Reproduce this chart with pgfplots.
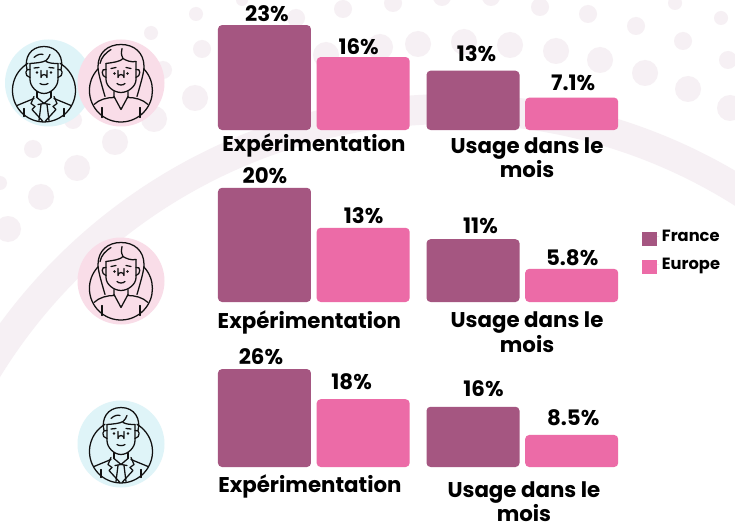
\documentclass[border=0pt]{standalone}
\usepackage{pgfplots}
\usepackage{pgfplotstable}
\usepackage{fontspec}
\setmainfont{Poppins}
\pgfplotsset{compat=1.18}
\definecolor{fr}{HTML}{A55681}
\definecolor{eu}{HTML}{EC6BA7}
\definecolor{bgd}{HTML}{F6F0F4}
\definecolor{av1}{HTML}{DFF4F8}
\definecolor{av2}{HTML}{F9DDE8}
\definecolor{ink}{HTML}{111111}
% x y label dx dy (offsets of the value labels, in px)
\pgfplotstableread{
x y lab dx dy
0 23 23 2.5 11
1 13 13 3.5 17
}\fa
\pgfplotstableread{
x y lab dx dy
0 16 16 -4.5 10
1 7.1 7.1 1.5 15
}\ea
\pgfplotstableread{
x y lab dx dy
0 20 20 0.5 12
1 11 11 7.5 13
}\fb
\pgfplotstableread{
x y lab dx dy
0 13 13 0.5 12
1 5.8 5.8 0.5 11
}\eb
\pgfplotstableread{
x y lab dx dy
0 26 26 -3.5 12
1 16 16 10.5 18
}\fc
\pgfplotstableread{
x y lab dx dy
0 18 18 -11.5 18
1 8.5 8.5 1.5 17
}\ec
\newcommand\labfont{\fontsize{16}{18.4}\selectfont\bfseries}
\pgfplotsset{
  panel/.style={
    scale only axis, width=315pt,
    xmin=-0.508, xmax=1.506,
    ytick=\empty, xtick={0}, extra x ticks={1},
    axis line style={draw=none}, major tick length=0pt,
    tick style={draw=none},
    y coord trafo/.code={\pgfmathparse{##1+5}},
    ymin=0,
    anchor=south west,
    xticklabel style={font=\labfont, align=center, text=black, inner sep=0pt, anchor=center},
    nodes near coords={\pgfplotspointmeta\%},
    point meta=explicit symbolic,
    every node near coord/.append style={font=\labfont, text=black, inner sep=0pt, anchor=center,
      xshift=\dx*0.75pt, yshift=\dy*0.75pt},
  },
  barF/.style={ybar, bar width=69.75pt, bar shift=-37.1pt, fill=fr, draw=none, rounded corners=3pt,
    every node near coord/.append style={xshift=-37.1pt},
    visualization depends on={\thisrow{dx}\as\dx}, visualization depends on={\thisrow{dy}\as\dy}},
  barE/.style={ybar, bar width=69.75pt, bar shift=36.9pt, fill=eu, draw=none, rounded corners=3pt,
    every node near coord/.append style={xshift=36.9pt},
    visualization depends on={\thisrow{dx}\as\dx}, visualization depends on={\thisrow{dy}\as\dy}},
}
\newcommand\man[2]{%
\begin{scope}[shift={(#1,#2)}, draw=ink, line width=0.95pt, line cap=round, line join=round]
  \draw (-16,-27.2) arc[start angle=239.5, end angle=-59.5, radius=31.5];
  \draw (-17,-21) .. controls (-20,-32) and (-14,-44) .. (0,-44) .. controls (14,-44) and (20,-32) .. (17,-21);
  \draw (-14,-27) -- (-14,-11) .. controls (-14,-4) and (-7,3) .. (0,3) .. controls (7,3) and (14,-4) .. (14,-11) -- (14,-27);
  \draw (-14,-27) .. controls (-8,-27.5) and (-1,-28) .. (2,-30) .. controls (4,-32) and (5,-33) .. (6,-36);
  \draw (2,-29) .. controls (6,-27) and (10,-27) .. (14,-27);
  \draw (-10,-33) .. controls (-7,-36) and (-3,-37) .. (-1,-36);
  \draw (-14,-21) .. controls (-19,-23) and (-20,-14) .. (-14,-13);
  \draw (14,-21) .. controls (19,-23) and (20,-14) .. (14,-13);
  \fill[ink] (-7,-18) circle (1.4) (7,-18) circle (1.4);
  \draw (-10,-22.5) -- (-5,-23) (5,-23) -- (10,-22.5);
  \draw (-3,-20) -- (-3,-13) arc[start angle=180, end angle=360, radius=3] -- (3,-20);
  \draw (-4,-7) .. controls (-2,-5.5) and (2,-5.5) .. (4,-7);
  \draw (-7,1) -- (-7,7) (7,1) -- (7,7);
  \draw (-27,15) -- (-10,8) (27,15) -- (10,8);
  \draw (-10,6) -- (-13,13) -- (-9,16) -- (-12,19) -- (-1,31);
  \draw (10,6) -- (13,13) -- (9,16) -- (12,19) -- (1,31);
  \draw (-7,7) -- (0,13) -- (7,7) (-6,14) -- (0,13) -- (6,14);
  \draw (-3,14) -- (-5,30) (3,14) -- (5,30);
  \draw (-20,18) -- (-20,26) (20,18) -- (20,26);
\end{scope}}
\newcommand\woman[2]{%
\begin{scope}[shift={(#1,#2)}, draw=ink, line width=0.95pt, line cap=round, line join=round]
  \draw (-23,-21.6) arc[start angle=223.3, end angle=-43.3, radius=31.5];
  \draw (-16,6) .. controls (-20,-8) and (-23,-18) .. (-23,-24) .. controls (-23,-38) and (-13,-46) .. (0,-46) .. controls (13,-46) and (23,-38) .. (23,-24) .. controls (23,-18) and (20,-8) .. (16,6);
  \draw (-15,-27) -- (-15,-11) .. controls (-15,-4) and (-7,2) .. (0,2) .. controls (7,2) and (15,-4) .. (15,-11) -- (15,-29);
  \draw (-15,-27) .. controls (-8,-28) and (0,-29) .. (2,-32) .. controls (0,-36) and (0,-39) .. (1,-42);
  \draw (2,-32) .. controls (5,-30) and (10,-28) .. (15,-29);
  \draw (-21,-27) .. controls (-20,-33) and (-15,-38) .. (-10,-41);
  \draw (-15,-21) .. controls (-20,-23) and (-20,-14) .. (-15,-13);
  \draw (15,-21) .. controls (20,-23) and (20,-14) .. (15,-13);
  \fill[ink] (-6.5,-17) circle (1.4) (6.5,-17) circle (1.4);
  \draw (-10,-22) -- (-5,-23) (5,-23) -- (10,-22);
  \draw (-3,-20) -- (-3,-13) arc[start angle=180, end angle=360, radius=3] -- (3,-20);
  \draw (-4,-7) .. controls (-2,-5) and (2,-5) .. (4,-7);
  \draw (-27,14) .. controls (-22,9) and (-14,7) .. (-7,7) -- (-7,1);
  \draw (27,14) .. controls (22,9) and (14,7) .. (7,7) -- (7,1);
  \draw (-7,6) -- (0,19) -- (7,6);
  \draw (-19,17) -- (-19,27) (19,17) -- (19,27);
\end{scope}}
\begin{document}
\begin{tikzpicture}
\begin{scope}[x=0.75pt, y=-0.75pt]
  \path[use as bounding box, fill=white] (0,0) rectangle (735,524);
  \clip (0,0) rectangle (735,524);
  \draw[bgd, line width=22.5pt] (452,654) circle (545);
  \foreach \a/\b/\r in {196/14/7,151/33/7,202/49/9,195/98/13,154/119/13,115/142/13,77/168/13,
    33/149/9,73/120/9,41/197/13,0/183/7,8/229/13,163/70/9,242/0/6,296/18/9,343/9/9,393/3/9,
    442/-3/9,491/-3/9,540/7/9,588/14/9,636/26/9,675/3/7,683/41/9,721/18/7,728/60/9,
    326/55/13,380/47/13,418/44/13,464/42/13,510/45/13,556/51/13,600/60/13,645/73/13,688/89/13,730/108/13}
    {\fill[bgd] (\a,\b) circle (\r);}
  \fill[av1] (48.5,83) circle (43.5);
  \man{44}{90.5}
  \fill[av2] (121,83) circle (43.5);
  \woman{121}{90.5}
  \fill[av2] (121,281) circle (43.5);
  \woman{121}{288.5}
  \fill[av1] (121,444) circle (43.5);
  \man{121}{451.5}
\end{scope}

\begin{axis}[panel, at={(156pt,-97.5pt)}, height=97.5pt, ymax=28.5,
  xticklabels={Expérimentation},
  extra x tick labels={Usage dans le\\mois},
  extra x tick style={xticklabel style={xshift=3.4pt, yshift=-9.35pt}},
  xticklabel style={yshift=-11.3pt}]
  \addplot[barF] table[x=x,y=y,meta=lab] {\fa};
  \addplot[barE] table[x=x,y=y,meta=lab] {\ea};
\end{axis}

\begin{axis}[panel, at={(156pt,-226.5pt)}, height=102.75pt, ymax=24,
  xticklabels={Expérimentation},
  extra x tick labels={Usage dans le\\mois},
  extra x tick style={xticklabel style={xshift=6.8pt, yshift=-7.5pt}},
  xticklabel style={xshift=-3.4pt, yshift=-15pt},
  legend style={at={(1.033,0.545)}, anchor=north west, draw=none, fill=none, inner sep=0pt, outer sep=0pt,
    font=\fontsize{12.2}{14}\selectfont\bfseries, row sep=7pt, cells={anchor=west}},
  legend image code/.code={\path[#1, sharp corners] (0pt,-6.75pt) rectangle (11.25pt,3.75pt); \path (0pt,0pt) -- (13pt,0pt);},
  legend cell align=left]
  \addplot[barF] table[x=x,y=y,meta=lab] {\fb};
  \addlegendentry{France}
  \addplot[barE] table[x=x,y=y,meta=lab] {\eb};
  \addlegendentry{Europe}
\end{axis}

\begin{axis}[panel, at={(156pt,-350.25pt)}, height=91.5pt, ymax=32.4,
  xticklabels={Expérimentation},
  extra x tick labels={Usage dans le\\mois},
  extra x tick style={xticklabel style={xshift=4.1pt, yshift=-11.7pt}},
  xticklabel style={xshift=-3pt, yshift=-14.3pt}]
  \addplot[barF] table[x=x,y=y,meta=lab] {\fc};
  \addplot[barE] table[x=x,y=y,meta=lab] {\ec};
\end{axis}
\end{tikzpicture}
\end{document}
